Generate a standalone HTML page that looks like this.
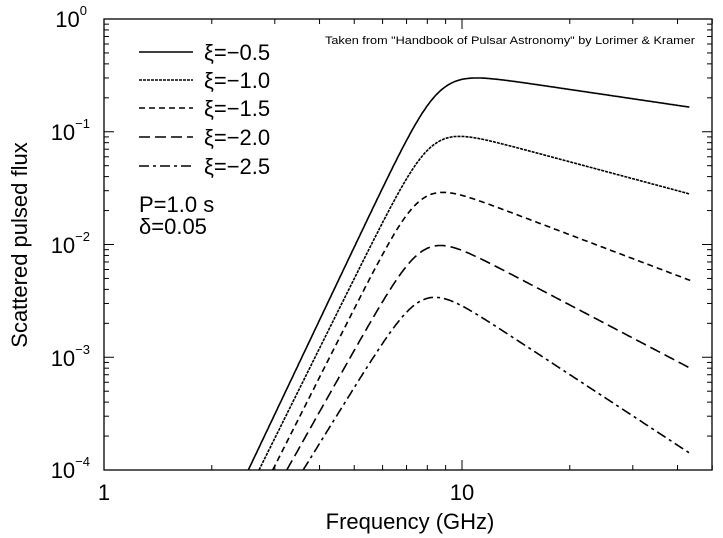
<!DOCTYPE html>
<html><head><meta charset="utf-8"><style>
html,body{margin:0;padding:0;background:#fff}
svg{display:block;font-family:"Liberation Sans",Arial,sans-serif}
</style></head><body>
<svg id="s" width="723" height="538" viewBox="0 0 723 538" xmlns="http://www.w3.org/2000/svg">
<rect x="0" y="0" width="723" height="538" fill="#fff"/>
<g id="ticks" stroke="#000" stroke-width="1"></g>
<g id="curves" fill="none" stroke="#000" stroke-width="1.6"></g>
<rect x="104" y="19" width="608" height="451" fill="none" stroke="#000" stroke-width="1.3"/>
<g font-size="22" text-anchor="end">
<text x="87" y="27">10<tspan font-size="13" dy="-12">0</tspan></text>
<text x="90" y="140">10<tspan font-size="13" dy="-12">−1</tspan></text>
<text x="90" y="253">10<tspan font-size="13" dy="-12">−2</tspan></text>
<text x="90" y="366">10<tspan font-size="13" dy="-12">−3</tspan></text>
<text x="90" y="478">10<tspan font-size="13" dy="-12">−4</tspan></text>
</g>
<g font-size="22" text-anchor="middle">
<text x="104" y="500">1</text>
<text x="462" y="500">10</text>
<text x="410" y="529">Frequency (GHz)</text>
<text transform="translate(27,245) rotate(-90)">Scattered pulsed flux</text>
</g>
<text x="325" y="44" font-size="11" textLength="370" lengthAdjust="spacingAndGlyphs">Taken from "Handbook of Pulsar Astronomy" by Lorimer &amp; Kramer</text>
<g stroke="#000" stroke-width="1.5">
<line x1="139" y1="52" x2="193" y2="52"/>
<line x1="139" y1="80" x2="193" y2="80" stroke-dasharray="3,1"/>
<line x1="139" y1="108" x2="193" y2="108" stroke-dasharray="6,4"/>
<line x1="139" y1="137" x2="193" y2="137" stroke-dasharray="11,5"/>
<line x1="139" y1="166" x2="193" y2="166" stroke-dasharray="10,4,3,4"/>
</g>
<g font-size="22">
<text x="204" y="60">ξ=−0.5</text>
<text x="204" y="88">ξ=−1.0</text>
<text x="204" y="116">ξ=−1.5</text>
<text x="204" y="145">ξ=−2.0</text>
<text x="204" y="174">ξ=−2.5</text>
<text x="139" y="212">P=1.0 s</text>
<text x="139" y="234">δ=0.05</text>
</g>
</svg>
<script>
(function(){
var NS="http://www.w3.org/2000/svg";
var L=104,R=712,T=19,B=470,DX=358,DY=112.75;
function X(f){return L+Math.log10(f)*DX;}
function Y(v){return T-Math.log10(v)*DY;}
var tg=document.getElementById("ticks");
function ln(x1,y1,x2,y2){var e=document.createElementNS(NS,"line");e.setAttribute("x1",x1);e.setAttribute("y1",y1);e.setAttribute("x2",x2);e.setAttribute("y2",y2);tg.appendChild(e);}
for(var d=0;d<2;d++)for(var m=1;m<10;m++){var f=m*Math.pow(10,d);if(f>50.1)break;var x=X(f);var len=(m==1)?10:5;ln(x,B,x,B-len);ln(x,T,x,T+len);}
for(var d=-4;d<0;d++)for(var m=1;m<10;m++){var v=m*Math.pow(10,d);var y=Y(v);var len=(m==1)?10:5;ln(L,y,L+len,y);ln(R,y,R-len,y);}
ln(L,T,L+10,T);ln(R,T,R-10,T);
var cg=document.getElementById("curves");
var M=1.5,FE=43.4;
// [xi, fpeak, vpeak, f0 (crossing 1e-4), end value, dash]
var cs=[[-0.5,11.0,0.30,2.53,0.165,""],[-1.0,9.85,0.091,2.71,0.028,"3,1"],[-1.5,8.85,0.029,2.96,0.0048,"6,4"],[-2.0,8.7,0.0098,3.24,0.0008,"11,5"],[-2.5,8.4,0.0034,3.6,0.00014,"10,4,3,4"]];
function mk(s,n,fp,vp){var r=-s/n;var w=r/(1-r);var fb=fp*Math.pow(w,1/(n*M));
 function g(f){return Math.pow(f,s)*Math.pow(1+Math.pow(fb/f,n*M),-1/M);}
 var A=vp/g(fp);return function(f){return A*g(f);};}
cs.forEach(function(c){
 var s=0.85*c[0],n=7;
 for(var it=0;it<30;it++){
  var lo=Math.max(-s+0.2,1),hi=30;
  for(var i=0;i<50;i++){var mid=(lo+hi)/2;if(mk(s,mid,c[1],c[2])(c[3])>1e-4)lo=mid;else hi=mid;}
  n=(lo+hi)/2;
  var a=-4,b=-0.05;
  for(var i=0;i<50;i++){var mid=(a+b)/2;if(-mid>=n-0.1){a=mid;continue;}if(mk(mid,n,c[1],c[2])(FE)>c[4])b=mid;else a=mid;}
  s=(a+b)/2;
 }
 var F=mk(s,n,c[1],c[2]);
 var lo=1,hi=c[1];for(var i=0;i<50;i++){var mid=(lo+hi)/2;if(F(mid)<1e-4)lo=mid;else hi=mid;}
 var pts=[X(hi).toFixed(1)+","+B];
 for(var lf=Math.log10(hi)+0.002;lf<=Math.log10(FE)+1e-9;lf+=0.003){var f=Math.pow(10,lf);pts.push(X(f).toFixed(1)+","+Y(F(f)).toFixed(1));}
 var p=document.createElementNS(NS,"polyline");p.setAttribute("points",pts.join(" "));
 if(c[5])p.setAttribute("stroke-dasharray",c[5]);
 cg.appendChild(p);
});
})();
</script>
</body></html>
